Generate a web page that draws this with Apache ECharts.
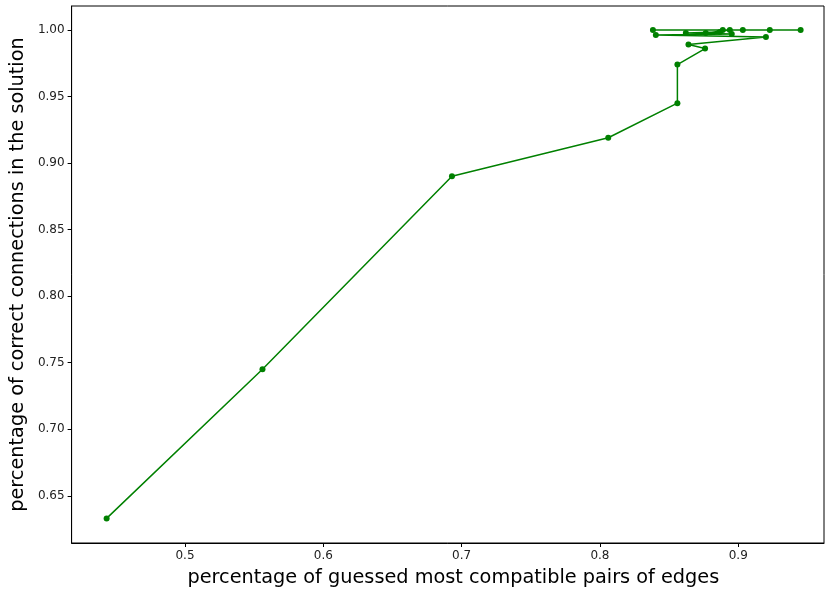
<!DOCTYPE html>
<html>
<head>
<meta charset="utf-8">
<script src="https://cdn.jsdelivr.net/npm/echarts@6/dist/echarts.min.js"></script>
<style>html,body{margin:0;padding:0;background:#fff}#c{width:825px;height:592px}</style>
</head>
<body>
<div id="c"></div>
<script>
const xValues = [0.4433, 0.556, 0.693, 0.806, 0.856, 0.856, 0.876, 0.864, 0.920, 0.8404, 0.8953, 0.8621, 0.8867, 0.8765, 0.8939, 0.8383, 0.8888, 0.9033, 0.9228, 0.9451];
const yValues = [0.633, 0.745, 0.890, 0.919, 0.945, 0.974, 0.986, 0.989, 0.9947, 0.9962, 0.9970, 0.9977, 0.9985, 0.9977, 1.0, 1.0, 1.0, 1.0, 1.0, 1.0];
const xTicks = [0.5, 0.6, 0.7, 0.8, 0.9];
const yTicks = [0.65, 0.70, 0.75, 0.80, 0.85, 0.90, 0.95, 1.00];
const xTitle = 'percentage of guessed most compatible pairs of edges';
const yTitle = 'percentage of correct connections in the solution';

const chart = echarts.init(document.getElementById('c'), null, {renderer: 'canvas'});
const font = 'DejaVu Sans';
chart.setOption({
  animation: false,
  grid: {left: 71, right: 1, top: 6, bottom: 48, show: true, borderColor: '#000', borderWidth: 1, backgroundColor: 'transparent'},
  xAxis: {
    type: 'value', min: 0.418, max: 0.962,
    name: xTitle, nameLocation: 'middle', nameGap: 25,
    nameTextStyle: {fontFamily: font, fontSize: 19.3, color: '#000', padding: [0, 0, 0, 11]},
    axisLine: {show: true, lineStyle: {color: '#000'}},
    axisTick: {show: true, length: 4, lineStyle: {color: '#000'}, customValues: xTicks},
    axisLabel: {fontFamily: font, fontSize: 12, color: '#222', margin: 7, customValues: xTicks, formatter: v => v.toFixed(1)},
    splitLine: {show: false}
  },
  yAxis: {
    type: 'value', min: 0.6145, max: 1.018,
    name: yTitle, nameLocation: 'middle', nameGap: 42,
    nameTextStyle: {fontFamily: font, fontSize: 19.3, color: '#000'},
    axisLine: {show: true, lineStyle: {color: '#000'}},
    axisTick: {show: true, length: 4, lineStyle: {color: '#000'}, customValues: yTicks},
    axisLabel: {fontFamily: font, fontSize: 12, color: '#222', margin: 7, customValues: yTicks, formatter: v => v.toFixed(2)},
    splitLine: {show: false}
  },
  series: [{
    type: 'line',
    data: xValues.map((x, i) => [x, yValues[i]]),
    symbol: 'circle', symbolSize: 6, showAllSymbol: true,
    lineStyle: {color: '#008000', width: 1.5},
    itemStyle: {color: '#008000'}
  }]
});
</script>
</body>
</html>
